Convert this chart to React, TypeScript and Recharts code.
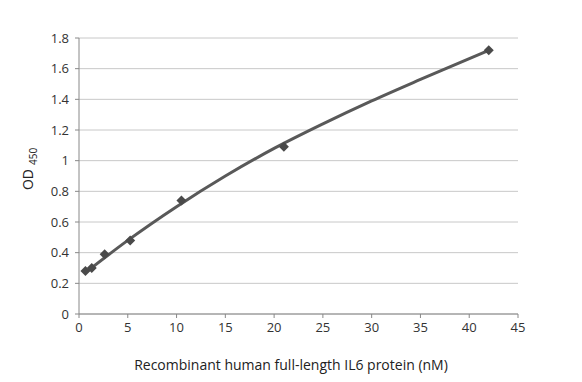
import { ComposedChart, Line, Scatter, XAxis, YAxis, CartesianGrid } from 'recharts';

// measured points (nM, OD450)
const conc = [0.66, 1.31, 2.63, 5.25, 10.5, 21, 42];
const od = [0.28, 0.3, 0.39, 0.48, 0.74, 1.09, 1.72];

// trendline
const fitX = [0.66, 5, 10, 15, 20, 25, 30, 35, 42];
const fitY = [0.27, 0.48, 0.7, 0.9, 1.08, 1.24, 1.39, 1.53, 1.72];

const xTicks = [0, 5, 10, 15, 20, 25, 30, 35, 40, 45];
const yTicks = [0, 0.2, 0.4, 0.6, 0.8, 1, 1.2, 1.4, 1.6, 1.8];

const points = conc.map((x, i) => ({ x, y: od[i] }));
const trend = fitX.map((x, i) => ({ x, y: fitY[i] }));

const font = '"Open Sans", sans-serif';
const tick = { fill: '#333', fontSize: 13, fontFamily: font };

const Diamond = (props: any) => {
  const { cx, cy } = props;
  const r = 5;
  return (
    <polygon
      points={`${cx},${cy - r} ${cx + r},${cy} ${cx},${cy + r} ${cx - r},${cy}`}
      fill="#4a4a4a"
    />
  );
};

export default function App() {
  return (
    <div style={{ position: 'absolute', left: 0, top: 0, width: 582, height: 382, background: '#fff' }}>
      <ComposedChart width={582} height={382} margin={{ top: 38, right: 64, bottom: 38, left: 0 }}>
        <CartesianGrid vertical={false} stroke="#c8c8c8" strokeWidth={1} />
        <XAxis
          type="number"
          dataKey="x"
          domain={[0, 45]}
          ticks={xTicks}
          interval={0}
          height={30}
          tick={tick}
          tickSize={4}
          tickMargin={5}
          stroke="#888"
          tickLine={{ stroke: '#888' }}
          allowDataOverflow
        />
        <YAxis
          type="number"
          dataKey="y"
          domain={[0, 1.8]}
          ticks={yTicks}
          interval={0}
          width={79}
          tick={tick}
          tickSize={4}
          tickMargin={6}
          stroke="#888"
          tickLine={{ stroke: '#888' }}
        />
        <Line
          data={trend}
          dataKey="y"
          type="monotone"
          stroke="#595959"
          strokeWidth={3}
          dot={false}
          activeDot={false}
          isAnimationActive={false}
        />
        <Scatter data={points} dataKey="y" shape={Diamond} isAnimationActive={false} />
        <text x={291} y={370} textAnchor="middle" fontSize={14} fontFamily={font} fill="#222">
          Recombinant human full-length IL6 protein (nM)
        </text>
        <text
          transform="translate(33,169) rotate(-90)"
          textAnchor="middle"
          fontSize={14}
          fontFamily={font}
          fill="#222"
        >
          OD
          <tspan fontSize={10} dy={4} dx={4}>450</tspan>
        </text>
      </ComposedChart>
    </div>
  );
}
